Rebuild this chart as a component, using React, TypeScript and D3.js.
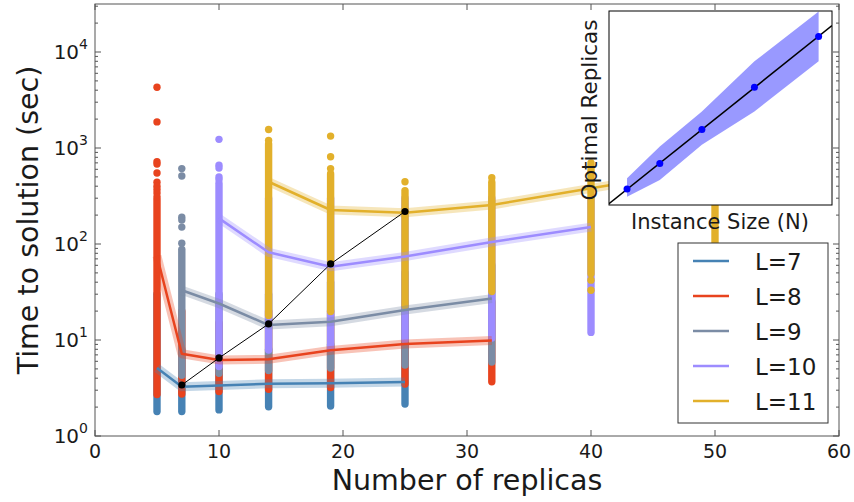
import React from "react";
import * as d3 from "d3";

// ---------- data ----------
const seriesLabels = ["L=7", "L=8", "L=9", "L=10", "L=11"];
const seriesColors = ["#4682b4", "#e8431e", "#7b8ca5", "#9d8cff", "#e2b02b"];

const replicasL7 = [5, 7, 10, 14, 19, 25];
const meanL7 = [5.1, 3.25, 3.35, 3.5, 3.55, 3.65];
const lowL7 = [1.8, 1.8, 1.87, 2.02, 2.05, 2.15];
const highL7 = [30, 8, 7, 8, 9, 9];
const outliersL7: number[][] = [[], [], [], [], [], []];

const replicasL8 = [5, 7, 10, 14, 19, 25, 32];
const meanL8 = [75, 7.2, 6.2, 6.3, 7.8, 9.1, 9.9];
const lowL8 = [2.7, 2.74, 2.9, 3.06, 3.2, 3.48, 3.68];
const highL8 = [290, 20, 15, 20, 20, 25, 25];
const outliersL8: number[][] = [[4300, 1870, 720, 680, 550, 440, 400, 370, 340, 310], [], [], [], [], [], []];

const replicasL9 = [7, 10, 14, 19, 25, 32];
const meanL9 = [33, 24, 14.3, 15.5, 20.5, 27];
const lowL9 = [4.3, 4.5, 4.8, 5.1, 5.5, 5.9];
const highL9 = [88, 30, 30, 40, 50, 60];
const outliersL9: number[][] = [[610, 510, 190, 178, 150, 102], [], [], [], [], []];

const replicasL10 = [10, 14, 19, 25, 32, 40];
const meanL10 = [185, 82, 58, 74, 105, 150];
const lowL10 = [5.3, 7.85, 8.2, 10, 10.5, 12];
const highL10 = [430, 300, 300, 300, 300, 300];
const outliersL10: number[][] = [[1230, 660, 620, 500, 470], [], [], [], [], []];

const replicasL11 = [14, 19, 25, 32, 40, 50];
const meanL11 = [445, 226, 212, 255, 380, 620];
const lowL11 = [18, 19.8, 22.6, 32, 49, 60];
const highL11 = [1100, 540, 360, 440, 700, 1000];
const outliersL11: number[][] = [[1560, 1200], [1330, 810, 610], [445], [490], [42, 33], []];

const optimalReplicas = [7, 10, 14, 19, 25];
const optimalTime = [3.4, 6.5, 14.7, 62, 218];

const instanceSize = [343, 512, 729, 1000, 1331];
const insetReplicas = [7, 10, 14, 19, 25];
const insetLow = [6.08, 8.06, 12.2, 16.14, 22.06];
const insetHigh = [8.26, 12.0, 16.14, 22.06, 27.95];

const xTicks = [0, 10, 20, 30, 40, 50, 60];
const yMajorExp = [0, 1, 2, 3, 4];

const series = [
  { r: replicasL7, m: meanL7, lo: lowL7, hi: highL7, out: outliersL7 },
  { r: replicasL8, m: meanL8, lo: lowL8, hi: highL8, out: outliersL8 },
  { r: replicasL9, m: meanL9, lo: lowL9, hi: highL9, out: outliersL9 },
  { r: replicasL10, m: meanL10, lo: lowL10, hi: highL10, out: outliersL10 },
  { r: replicasL11, m: meanL11, lo: lowL11, hi: highL11, out: outliersL11 },
].map((s, i) => ({ ...s, label: seriesLabels[i], color: seriesColors[i] }));

// ---------- layout ----------
const W = 854, H = 502;
const L = 95, R = 839, T = 4, B = 436;
const FONT = "'DejaVu Sans', sans-serif";
const TXT = "#1a1a1a";
const AX = "#555";

export default function App() {
  const x = d3.scaleLinear().domain([0, 60]).range([L, R]);
  const y = d3.scaleLog().domain([1, Math.pow(10, 4.5)]).range([B, T]);
  const line = d3.line<[number, number]>().x(d => x(d[0])).y(d => y(d[1]));

  const minor: number[] = [];
  for (let k = 0; k <= 4; k++) for (let m = 2; m <= 9; m++) {
    const v = m * Math.pow(10, k);
    if (v < Math.pow(10, 4.5)) minor.push(v);
  }

  // inset
  const ix = d3.scaleLinear().domain([250, 1400]).range([609, 832]);
  const iy = d3.scaleLinear().domain([5.1, 28]).range([205, 11]);
  const band = d3.area<number>()
    .x((_, i) => ix(instanceSize[i]))
    .y0((_, i) => iy(insetLow[i]))
    .y1((_, i) => iy(insetHigh[i]));
  const mx = d3.mean(instanceSize)!, my = d3.mean(insetReplicas)!;
  const slope = d3.sum(instanceSize, (n, i) => (n - mx) * (insetReplicas[i] - my)) /
    d3.sum(instanceSize, n => (n - mx) * (n - mx));
  const icpt = my - slope * mx;
  const [n0, n1] = ix.domain();

  const colW = 7.4;

  return (
    <div style={{ position: "absolute", left: 0, top: 0 }}>
      <svg width={W} height={H} style={{ display: "block", background: "#fff" }} fontFamily={FONT}>
        <defs>
          <clipPath id="insetClip"><rect x={609} y={11} width={223} height={194} /></clipPath>
        </defs>

        {/* scatter columns */}
        {series.map((s, si) => (
          <g key={"col" + si} fill={s.color} stroke={s.color}>
            {s.r.map((rv, i) => (
              <g key={i}>
                <line x1={x(rv)} x2={x(rv)} y1={y(s.lo[i])} y2={y(s.hi[i])}
                  strokeWidth={colW} strokeLinecap="round" />
                {s.out[i].map((v, j) => (
                  <circle key={j} cx={x(rv)} cy={y(v)} r={colW / 2} stroke="none" />
                ))}
              </g>
            ))}
          </g>
        ))}

        {/* mean lines with bands */}
        {series.map((s, si) => {
          const pts = s.r.map((rv, i) => [rv, s.m[i]] as [number, number]);
          const d = line(pts)!;
          return (
            <g key={"ln" + si} fill="none" stroke={s.color} strokeLinejoin="round">
              <path d={d} strokeWidth={9} strokeOpacity={0.32} />
              <path d={d} strokeWidth={2.5} />
            </g>
          );
        })}

        {/* optimal line */}
        <path d={line(optimalReplicas.map((r, i) => [r, optimalTime[i]] as [number, number]))!}
          fill="none" stroke="#000" strokeWidth={1} />
        {optimalReplicas.map((r, i) => (
          <circle key={"o" + i} cx={x(r)} cy={y(optimalTime[i])} r={3.6} fill="#000" />
        ))}

        {/* axes frame */}
        <rect x={L} y={T} width={R - L} height={B - T} fill="none" stroke={AX} strokeWidth={1} />
        {xTicks.map(t => (
          <g key={"xt" + t}>
            <line x1={x(t)} x2={x(t)} y1={B} y2={B - 6} stroke={AX} />
            <line x1={x(t)} x2={x(t)} y1={T} y2={T + 6} stroke={AX} />
            <text x={x(t)} y={458} textAnchor="middle" fontSize={19} fill={TXT}>{t}</text>
          </g>
        ))}
        {yMajorExp.map(e => {
          const yy = y(Math.pow(10, e));
          return (
            <g key={"yt" + e}>
              <line x1={L} x2={L + 6} y1={yy} y2={yy} stroke={AX} />
              <line x1={R} x2={R - 6} y1={yy} y2={yy} stroke={AX} />
              <text x={88} y={yy + 7} textAnchor="end" fontSize={20} fill={TXT}>
                10<tspan fontSize={14} dy={-10}>{e}</tspan>
              </text>
            </g>
          );
        })}
        {minor.map((v, i) => (
          <g key={"ym" + i}>
            <line x1={L} x2={L + 3} y1={y(v)} y2={y(v)} stroke={AX} />
            <line x1={R} x2={R - 3} y1={y(v)} y2={y(v)} stroke={AX} />
          </g>
        ))}

        <text x={467} y={490} textAnchor="middle" fontSize={28.5} fill={TXT}>Number of replicas</text>
        <text transform={`translate(38,${(T + B) / 2}) rotate(-90)`} textAnchor="middle" fontSize={28.5} fill={TXT}>
          Time to solution (sec)
        </text>

        {/* inset */}
        <rect x={609} y={11} width={223} height={194} fill="#fff" />
        <g clipPath="url(#insetClip)">
          <path d={band(instanceSize)!} fill="#0000ff" fillOpacity={0.4} />
          <line x1={ix(n0)} y1={iy(icpt + slope * n0)} x2={ix(n1)} y2={iy(icpt + slope * n1)}
            stroke="#000" strokeWidth={1.5} />
          {instanceSize.map((n, i) => (
            <circle key={"id" + i} cx={ix(n)} cy={iy(insetReplicas[i])} r={3.5} fill="#0000ff" />
          ))}
        </g>
        <rect x={609} y={11} width={223} height={194} fill="none" stroke="#000" strokeWidth={1} />
        <text x={720} y={229} textAnchor="middle" fontSize={21} fill={TXT}>Instance Size (N)</text>
        <text transform={`translate(597,110) rotate(-90)`} textAnchor="middle" fontSize={21.5} fill={TXT}>
          Optimal Replicas
        </text>

        {/* legend */}
        <rect x={678} y={243} width={150} height={180} fill="#fff" stroke="#333" strokeWidth={1} />
        {series.map((s, i) => {
          const ly = 261 + i * 35;
          return (
            <g key={"lg" + i}>
              <line x1={693} x2={729} y1={ly} y2={ly} stroke={s.color} strokeWidth={2.5} />
              <text x={755} y={ly + 8.5} fontSize={23} fill={TXT}>{s.label}</text>
            </g>
          );
        })}
      </svg>
    </div>
  );
}
